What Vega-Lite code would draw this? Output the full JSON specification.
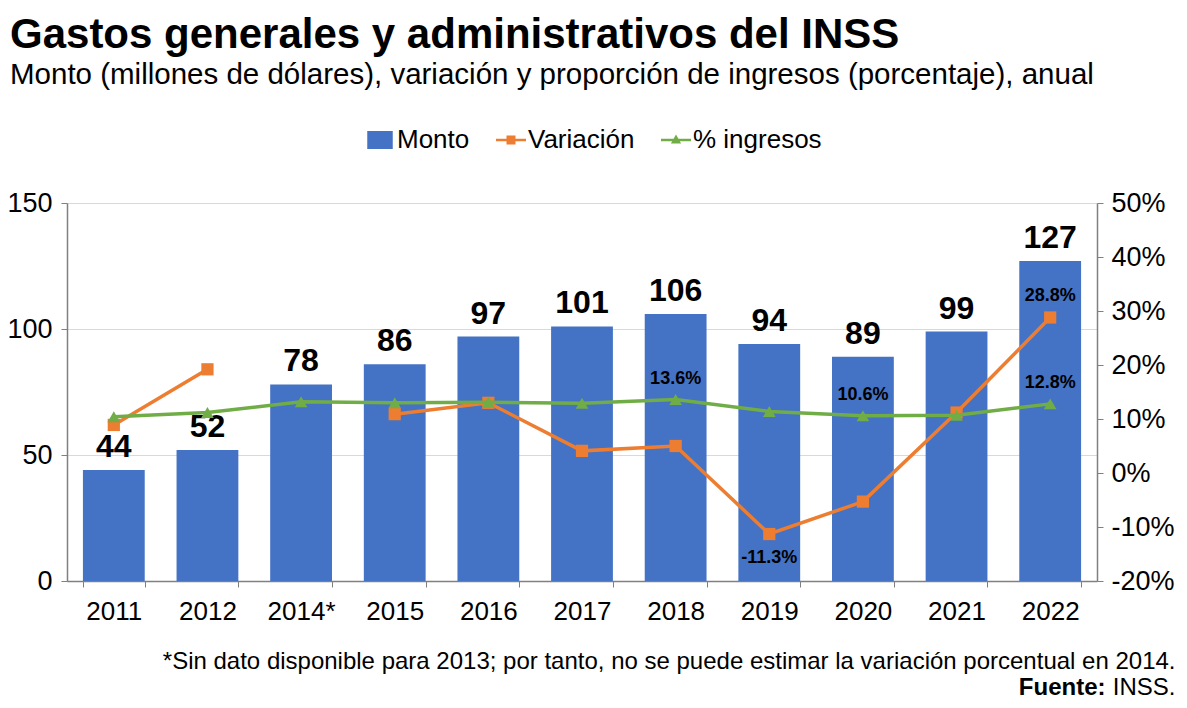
{
  "$schema": "https://vega.github.io/schema/vega-lite/v6.json",
  "width": 1030,
  "height": 378,
  "autosize": {"type": "none"},
  "padding": {"left": 67, "top": 203, "right": 90, "bottom": 127},
  "background": "white",
  "config": {
    "font": "Liberation Sans",
    "view": {"stroke": null},
    "axis": {"labelFont": "Liberation Sans", "titleFont": "Liberation Sans"}
  },
  "title": {
    "text": "Gastos generales y administrativos del INSS",
    "subtitle": "Monto (millones de dólares), variación y proporción de ingresos (porcentaje), anual",
    "anchor": "start",
    "frame": "group",
    "dx": -57,
    "font": "Liberation Sans",
    "fontSize": 42,
    "fontWeight": "bold",
    "color": "#000000",
    "subtitleFont": "Liberation Sans",
    "subtitleFontSize": 29.5,
    "subtitleColor": "#000000",
    "subtitlePadding": 4,
    "offset": 35
  },
  "data": {
    "values": [
      {"year": "2011", "monto": 44, "variacion": 8.9, "ingresos": 10.4, "labVar": null, "labIng": null},
      {"year": "2012", "monto": 52, "variacion": 19.2, "ingresos": 11.2, "labVar": null, "labIng": null},
      {"year": "2014*", "monto": 78, "variacion": null, "ingresos": 13.2, "labVar": null, "labIng": null},
      {"year": "2015", "monto": 86, "variacion": 10.9, "ingresos": 13.0, "labVar": null, "labIng": null},
      {"year": "2016", "monto": 97, "variacion": 13.0, "ingresos": 13.1, "labVar": null, "labIng": null},
      {"year": "2017", "monto": 101, "variacion": 4.1, "ingresos": 12.9, "labVar": null, "labIng": null},
      {"year": "2018", "monto": 106, "variacion": 5.0, "ingresos": 13.6, "labVar": null, "labIng": "13.6%"},
      {"year": "2019", "monto": 94, "variacion": -11.3, "ingresos": 11.4, "labVar": "-11.3%", "labIng": null},
      {"year": "2020", "monto": 89, "variacion": -5.3, "ingresos": 10.6, "labVar": null, "labIng": "10.6%"},
      {"year": "2021", "monto": 99, "variacion": 11.2, "ingresos": 10.7, "labVar": null, "labIng": null},
      {"year": "2022", "monto": 127, "variacion": 28.8, "ingresos": 12.8, "labVar": "28.8%", "labIng": "12.8%"}
    ]
  },
  "encoding": {
    "x": {
      "field": "year",
      "type": "ordinal",
      "sort": null,
      "scale": {"paddingInner": 0.34, "paddingOuter": 0.17},
      "axis": {
        "labelAngle": 0,
        "labelFontSize": 26,
        "labelColor": "#000000",
        "labelPadding": 11,
        "domainColor": "#808080",
        "domainWidth": 1.5,
        "tickColor": "#808080",
        "tickBand": "extent",
        "tickSize": 6,
        "title": "*Sin dato disponible para 2013; por tanto, no se puede estimar la variación porcentual en 2014.",
        "titleFontSize": 24,
        "titleFontWeight": "normal",
        "titleColor": "#000000",
        "titleAnchor": "end",
        "titleAlign": "right",
        "titleBaseline": "alphabetic",
        "titleX": 1108,
        "titleY": 87
      }
    }
  },
  "layer": [
    {
      "encoding": {
        "y": {
          "field": "monto",
          "type": "quantitative",
          "scale": {"domain": [0, 150]},
          "axis": {
            "values": [0, 50, 100, 150],
            "title": "INSS.",
            "titleFontSize": 24,
            "titleFontWeight": "normal",
            "titleColor": "#000000",
            "titleAngle": 0,
            "titleAlign": "right",
            "titleBaseline": "alphabetic",
            "titleX": 1108,
            "titleY": 491,
            "labelFontSize": 27,
            "labelColor": "#000000",
            "labelPadding": 9,
            "domainColor": "#808080",
            "domainWidth": 1.5,
            "tickColor": "#808080",
            "tickSize": 6,
            "grid": true,
            "gridColor": "#D9D9D9",
            "gridWidth": 1
          }
        }
      },
      "layer": [
        {
          "mark": {"type": "bar"},
          "encoding": {
            "color": {
              "datum": "Monto",
              "type": "nominal",
              "scale": {"domain": ["Monto", "Variación", "% ingresos"], "range": ["#4472C4", "#ED7D31", "#70AD47"]},
              "legend": {
                "orient": "none",
                "legendX": 298,
                "legendY": -78,
                "direction": "horizontal",
                "title": null,
                "labelFontSize": 26,
                "labelColor": "#000000",
                "labelFont": "Liberation Sans",
                "symbolSize": 900,
                "symbolStrokeWidth": 0,
                "columnPadding": 26,
                "labelOffset": 2,
                "encoding": {
                  "symbols": {
                    "shape": {"value": {"expr": "datum.value === 'Monto' ? 'M-0.85,-0.6H0.85V0.6H-0.85Z' : datum.value === 'Variación' ? 'M-1,-0.09H1V0.09H-1Z M-0.3,-0.3H0.3V0.3H-0.3Z' : 'M-1,-0.09H1V0.09H-1Z M0,-0.36L0.34,0.24H-0.34Z'"}}
                  }
                }
              }
            }
          }
        },
        {
          "mark": {"type": "text", "fontSize": 32, "fontWeight": "bold", "baseline": "bottom", "dy": -6, "color": "#000000"},
          "encoding": {
            "text": {"field": "monto", "type": "quantitative"}
          }
        }
      ]
    },
    {
      "layer": [
        {
          "mark": {"type": "line", "strokeWidth": 3.5, "invalid": "break-paths-show-domains"},
          "encoding": {
            "y": {
              "field": "variacion",
              "type": "quantitative",
              "scale": {"domain": [-20, 50]},
              "axis": {
                "orient": "right",
                "values": [-20, -10, 0, 10, 20, 30, 40, 50],
                "labelExpr": "datum.value + '%'",
                "title": "Fuente:",
                "titleFontSize": 24,
                "titleFontWeight": "bold",
                "titleColor": "#000000",
                "titleAngle": 0,
                "titleAlign": "right",
                "titleBaseline": "alphabetic",
                "titleX": 8,
                "titleY": 491,
                "labelFontSize": 27,
                "labelColor": "#000000",
                "labelPadding": 8,
                "domainColor": "#808080",
                "domainWidth": 1.5,
                "tickColor": "#808080",
                "tickSize": 6,
                "grid": false
              }
            },
            "color": {"datum": "Variación", "type": "nominal"}
          }
        },
        {
          "transform": [{"filter": "isValid(datum.variacion)"}],
          "mark": {"type": "point", "shape": "square", "filled": true, "size": 150, "opacity": 1},
          "encoding": {
            "y": {"field": "variacion", "type": "quantitative", "scale": {"domain": [-20, 50]}},
            "color": {"datum": "Variación", "type": "nominal"}
          }
        },
        {
          "mark": {"type": "line", "strokeWidth": 3.5},
          "encoding": {
            "y": {"field": "ingresos", "type": "quantitative", "scale": {"domain": [-20, 50]}},
            "color": {"datum": "% ingresos", "type": "nominal"}
          }
        },
        {
          "mark": {"type": "point", "shape": "triangle-up", "filled": true, "size": 160, "opacity": 1},
          "encoding": {
            "y": {"field": "ingresos", "type": "quantitative", "scale": {"domain": [-20, 50]}},
            "color": {"datum": "% ingresos", "type": "nominal"}
          }
        },
        {
          "transform": [{"filter": "datum.labIng != null"}],
          "mark": {"type": "text", "fontSize": 18, "fontWeight": "bold", "baseline": "bottom", "dy": -12, "color": "#000000"},
          "encoding": {
            "y": {"field": "ingresos", "type": "quantitative", "scale": {"domain": [-20, 50]}},
            "text": {"field": "labIng"}
          }
        },
        {
          "transform": [{"filter": "datum.labVar == '28.8%'"}],
          "mark": {"type": "text", "fontSize": 18, "fontWeight": "bold", "baseline": "bottom", "dy": -12, "color": "#000000"},
          "encoding": {
            "y": {"field": "variacion", "type": "quantitative", "scale": {"domain": [-20, 50]}},
            "text": {"field": "labVar"}
          }
        },
        {
          "transform": [{"filter": "datum.labVar == '-11.3%'"}],
          "mark": {"type": "text", "fontSize": 18, "fontWeight": "bold", "baseline": "top", "dy": 15, "color": "#000000"},
          "encoding": {
            "y": {"field": "variacion", "type": "quantitative", "scale": {"domain": [-20, 50]}},
            "text": {"field": "labVar"}
          }
        }
      ]
    }
  ],
  "resolve": {"scale": {"y": "independent"}}
}
